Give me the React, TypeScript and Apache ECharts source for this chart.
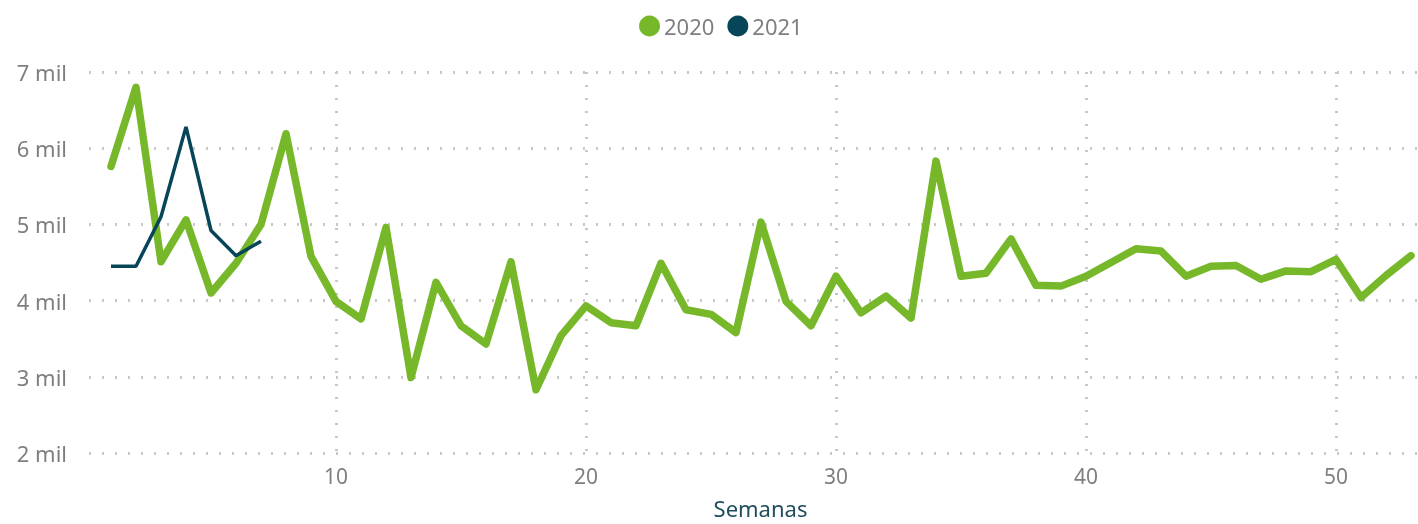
import React, { useEffect, useRef } from "react";
import * as echarts from "echarts";

const weeks2020 = [
  1, 2, 3, 4, 5, 6, 7, 8, 9, 10, 11, 12, 13, 14, 15, 16, 17, 18, 19, 20, 21, 22, 23, 24, 25, 26, 27,
  28, 29, 30, 31, 32, 33, 34, 35, 36, 37, 38, 39, 40, 41, 42, 43, 44, 45, 46, 47, 48, 49, 50, 51, 52, 53,
];
const values2020 = [
  5760, 6800, 4510, 5060, 4100, 4490, 5000, 6190, 4580, 3990, 3760, 4960, 2990, 4240, 3670, 3430,
  4510, 2830, 3540, 3930, 3710, 3670, 4490, 3880, 3820, 3580, 5030, 3990, 3670, 4320, 3840, 4060,
  3770, 5830, 4320, 4360, 4810, 4200, 4190, 4320, 4500, 4680, 4650, 4320, 4450, 4460, 4280, 4390,
  4380, 4540, 4040, 4330, 4590,
];
const weeks2021 = [1, 2, 3, 4, 5, 6, 7];
const values2021 = [4450, 4450, 5100, 6280, 4920, 4590, 4780];
const xTickValues = [10, 20, 30, 40, 50];
const seriesNames = ["2020", "2021"];

export default function App() {
  const ref = useRef<HTMLDivElement>(null);
  useEffect(() => {
    if (!ref.current) return;
    const chart = echarts.init(ref.current, undefined, { renderer: "svg" });
    const font = "'Noto Sans', 'Open Sans', sans-serif";
    const gridStyle = { color: "#c8c8c8", width: 3, type: [2, 11] as number[] };
    chart.setOption({
      animation: false,
      legend: {
        top: 10,
        left: 634,
        itemGap: 13,
        itemWidth: 21,
        itemHeight: 21,
        icon: "circle",
        data: seriesNames,
        textStyle: { color: "#7f7f7f", fontSize: 22, fontFamily: font, padding: [0, 0, 0, -1] },
      },
      grid: { left: 89, right: 0, top: 72, bottom: 68 },
      xAxis: {
        type: "value",
        min: 0.12,
        max: 53.28,
        name: "Semanas",
        nameLocation: "middle",
        nameGap: 44,
        nameTextStyle: {
          color: "#1e4d5c",
          fontSize: 22,
          fontFamily: font,
          padding: [0, 0, 0, 14],
        },
        axisLine: { show: false },
        axisTick: { show: false, customValues: xTickValues },
        axisLabel: {
          customValues: xTickValues,
          color: "#7f7f7f",
          fontSize: 21,
          fontFamily: font,
          margin: 12,
        },
        splitLine: { show: true, lineStyle: gridStyle },
      },
      yAxis: {
        type: "value",
        min: 2000,
        max: 7000,
        interval: 1000,
        axisLine: { show: false },
        axisTick: { show: false },
        axisLabel: {
          color: "#7f7f7f",
          fontSize: 22,
          fontFamily: font,
          margin: 22,
          formatter: (v: number) => `${v / 1000} mil`,
        },
        splitLine: { show: true, lineStyle: gridStyle },
      },
      series: [
        {
          name: seriesNames[0],
          type: "line",
          data: weeks2020.map((w, i) => [w, values2020[i]]),
          showSymbol: false,
          symbol: "circle",
          itemStyle: { color: "#76b82a" },
          lineStyle: { color: "#76b82a", width: 7.5, join: "round", cap: "round" },
          z: 2,
        },
        {
          name: seriesNames[1],
          type: "line",
          data: weeks2021.map((w, i) => [w, values2021[i]]),
          showSymbol: false,
          symbol: "circle",
          itemStyle: { color: "#074559" },
          lineStyle: { color: "#074559", width: 3.5 },
          z: 3,
        },
      ],
    });
    return () => chart.dispose();
  }, []);
  return (
    <div
      ref={ref}
      style={{ position: "fixed", left: 0, top: 0, width: 1418, height: 524 }}
    />
  );
}
